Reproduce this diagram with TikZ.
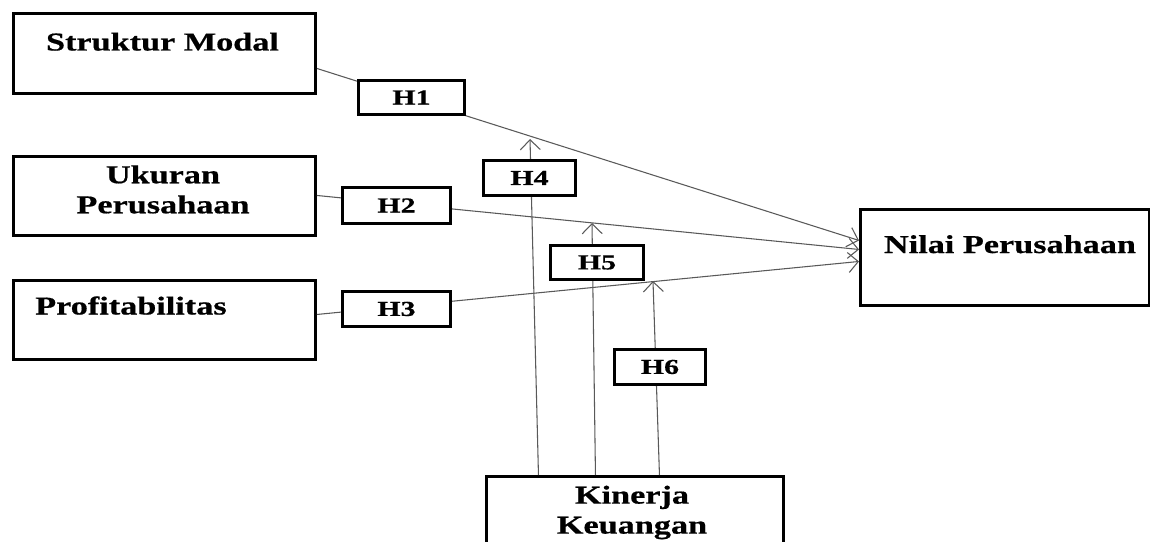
\documentclass[tikz,border=0pt]{standalone}
\usepackage{fontspec}
\setmainfont{Liberation Serif}[FakeStretch=1.33,FakeBold=0.6]
\newfontfamily\hfont{Liberation Serif}[FakeStretch=1.4,FakeBold=0.6]
\usetikzlibrary{arrows.meta,calc}
\begin{document}
\begin{tikzpicture}[x=0.75pt,y=-0.75pt,
  bigbox/.style={draw=black, line width=2.2pt, fill=white, inner sep=0pt, anchor=north west},
  hbox/.style={draw=black, line width=2.2pt, fill=white, inner sep=0pt, anchor=north west,
    font=\hfont\bfseries\fontsize{16}{18}\selectfont},
  lbl/.style={font=\bfseries\fontsize{19.3}{22.5}\selectfont, inner sep=0pt, align=center},
  conn/.style={draw=black!65, line width=0.8pt},
  arr/.style={conn, -{Straight Barb[length=7.5pt,width=15pt]}}]
\useasboundingbox (0,0) rectangle (1150,542);
\clip (0,0) rectangle (1150,542);
% main boxes
\node[bigbox, minimum width=226.5pt, minimum height=60pt] (sm) at (12,12) {};
\node[bigbox, minimum width=226.5pt, minimum height=59.25pt] (uk) at (12,155) {};
\node[bigbox, minimum width=226.5pt, minimum height=59.25pt] (pr) at (12,279) {};
\node[bigbox, minimum width=216.75pt, minimum height=72pt] (nilai) at (859,208) {};
\node[bigbox, minimum width=222.75pt, minimum height=75pt] (kin) at (485,475) {};
% texts
\node[lbl, anchor=base] (smt) at (162.5,50.5) {Struktur Modal};
\node[lbl] (ukt) at (163,189.5) {Ukuran\\Perusahaan};
\node[lbl, anchor=base west] (prt) at (35,314.5) {Profitabilitas};
\node[lbl, anchor=base] (nit) at (1010,253) {Nilai Perusahaan};
\node[lbl] (kit) at (632,512.5) {Kinerja\\Keuangan};
% arrow tips of moderating paths
\coordinate (t4) at (530,139);
\coordinate (t5) at (592,223);
\coordinate (t6) at (653,281);
% connectors
\draw[arr] ($(sm.east)+(0,15)$) -- ($(nilai.west)+(0,-17)$);
\draw[arr] ($(uk.east)+(0,-0.5)$) -- ($(nilai.west)+(0,-8)$);
\draw[arr] ($(pr.east)+(0,-5.5)$) -- ($(nilai.west)+(0,4)$);
\draw[arr] ($(kin.north)+(-96.5,0)$) -- (t4);
\draw[arr] ($(kin.north)+(-39.5,0)$) -- (t5);
\draw[arr] ($(kin.north)+(24.5,0)$) -- (t6);
% hypothesis boxes
\node[hbox, minimum width=79.5pt, minimum height=25.5pt] (h1) at (357,79) {H1};
\node[hbox, minimum width=81pt, minimum height=27pt] (h2) at (341,186) {H2};
\node[hbox, minimum width=81pt, minimum height=26.25pt] (h3) at (341,290) {H3};
\node[hbox, minimum width=69pt, minimum height=26.25pt] (h4) at (482,159) {H4};
\node[hbox, minimum width=69.75pt, minimum height=25.5pt] (h5) at (549,244) {H5};
\node[hbox, minimum width=68.25pt, minimum height=26.25pt] (h6) at (613,348) {H6};
\end{tikzpicture}
\end{document}
